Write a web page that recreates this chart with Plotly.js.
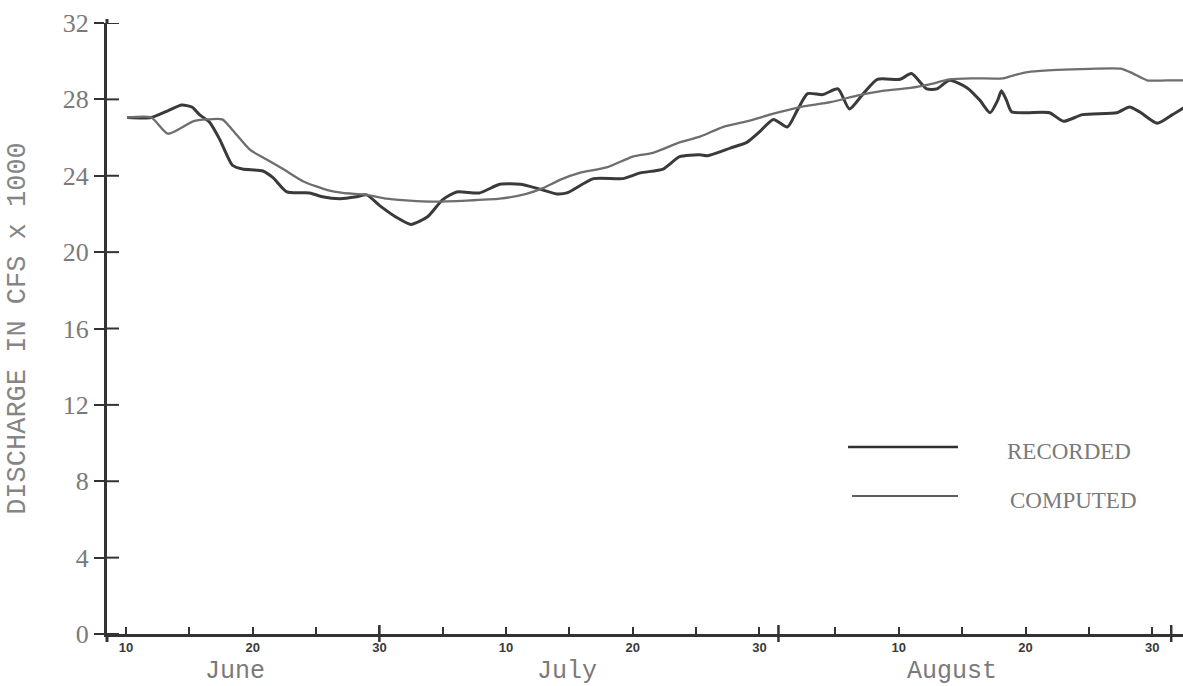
<!DOCTYPE html>
<html>
<head>
<meta charset="utf-8">
<script src="https://cdn.plot.ly/plotly-3.0.1.min.js"></script>
<style>
  html, body { margin: 0; padding: 0; background: #ffffff; }
  #chart { width: 1183px; height: 686px; }
</style>
</head>
<body>
<div id="chart"></div>
<script>
// Day numbers count from 1 June (1 July = 31, 1 August = 62).
const recordedDays = [10.1, 12.0, 13.3, 14.4, 15.2, 15.8, 16.6, 17.4, 18.4, 19.2, 20.8, 21.6, 22.7, 24.5, 25.5, 26.9, 28.2, 29.0, 30.0, 31.4, 32.5, 33.8, 35.0, 36.1, 37.9, 39.5, 41.1, 42.4, 44.0, 44.8, 46.9, 49.2, 50.6, 52.4, 53.7, 55.3, 55.9, 57.7, 59.0, 60.0, 61.1, 62.2, 63.0, 63.8, 65.0, 66.2, 67.1, 68.2, 69.3, 71.1, 72.0, 73.2, 74.0, 75.0, 76.4, 77.4, 78.2, 78.8, 79.1, 79.5, 79.9, 81.1, 82.9, 84.0, 85.5, 88.2, 89.2, 90.0, 91.4, 92.6, 93.7];
const recordedFlow = [27.05, 27.05, 27.4, 27.7, 27.6, 27.2, 26.8, 25.9, 24.55, 24.35, 24.25, 23.9, 23.15, 23.1, 22.9, 22.8, 22.9, 23.0, 22.45, 21.8, 21.45, 21.85, 22.75, 23.15, 23.1, 23.55, 23.55, 23.35, 23.05, 23.1, 23.85, 23.85, 24.15, 24.35, 25.0, 25.1, 25.05, 25.45, 25.75, 26.3, 26.95, 26.55, 27.45, 28.3, 28.25, 28.55, 27.5, 28.3, 29.05, 29.05, 29.35, 28.55, 28.55, 29.0, 28.6, 27.95, 27.3, 27.95, 28.45, 27.95, 27.35, 27.3, 27.3, 26.85, 27.2, 27.3, 27.6, 27.35, 26.75, 27.2, 27.65];

const computedDays = [10.1, 12.0, 13.3, 15.3, 16.4, 17.6, 18.4, 19.8, 21.1, 22.4, 24.0, 25.9, 27.1, 29.0, 30.6, 32.4, 34.2, 36.9, 39.5, 41.6, 42.9, 44.3, 45.8, 48.0, 50.0, 51.6, 53.7, 55.3, 57.1, 59.0, 61.1, 63.2, 65.6, 67.7, 69.7, 71.9, 73.5, 75.0, 76.9, 79.2, 80.0, 81.4, 83.5, 86.1, 88.6, 89.5, 90.6, 92.6, 93.7];
const computedFlow = [27.05, 27.05, 26.2, 26.85, 26.95, 26.95, 26.4, 25.35, 24.85, 24.35, 23.7, 23.25, 23.1, 23.0, 22.8, 22.7, 22.65, 22.7, 22.8, 23.05, 23.35, 23.8, 24.15, 24.45, 25.0, 25.2, 25.75, 26.05, 26.55, 26.85, 27.25, 27.6, 27.85, 28.2, 28.45, 28.6, 28.8, 29.05, 29.1, 29.1, 29.25, 29.45, 29.55, 29.6, 29.6, 29.35, 29.0, 29.0, 29.0];

const seriesNames = ['RECORDED', 'COMPUTED'];

const yTicks = [0, 4, 8, 12, 16, 20, 24, 28, 32];
const dayTicks = [10, 15, 20, 25, 30, 35, 40, 45, 50, 55, 60, 66, 71, 76, 81, 86, 91];
const dayTickText = ['10', '', '20', '', '30', '', '10', '', '20', '', '30', '', '10', '', '20', '', '30'];
const monthEnds = [30, 61.5, 92.5];
const monthNames = ['June', 'July', 'August'];
const monthMidDays = [18.6, 44.8, 75.2];

const axisColor = '#333333';
const textGray = '#7a7a7a';

const traces = [
  {
    x: recordedDays, y: recordedFlow, name: seriesNames[0],
    type: 'scatter', mode: 'lines',
    line: { color: '#3a3a3a', width: 3, shape: 'spline', smoothing: 0.6 }
  },
  {
    x: computedDays, y: computedFlow, name: seriesNames[1],
    type: 'scatter', mode: 'lines',
    line: { color: '#6e6e6e', width: 2.3, shape: 'spline', smoothing: 0.6 }
  }
];

const shapes = [];
// right-hand half of each y tick (the axis draws the outer half)
yTicks.forEach(v => shapes.push({
  type: 'line', xref: 'paper', xsizemode: 'pixel', xanchor: 0, x0: 0, x1: 12,
  yref: 'y', y0: v, y1: v, line: { color: axisColor, width: 2 }
}));
// long ticks closing each month
monthEnds.forEach(d => shapes.push({
  type: 'line', xref: 'x', x0: d, x1: d,
  yref: 'paper', ysizemode: 'pixel', yanchor: 0, y0: -8, y1: 9,
  line: { color: axisColor, width: 2.5 }
}));
// y axis continues a little past both ends
shapes.push({
  type: 'line', xref: 'paper', x0: 0, x1: 0,
  yref: 'paper', ysizemode: 'pixel', yanchor: 0, y0: -8, y1: 0,
  line: { color: axisColor, width: 3 }
});
shapes.push({
  type: 'line', xref: 'paper', x0: 0, x1: 0,
  yref: 'paper', ysizemode: 'pixel', yanchor: 1, y0: 0, y1: 4,
  line: { color: axisColor, width: 3 }
});
// legend sample lines
const legendRows = [
  { x0: 0.6887, x1: 0.7909, y: 0.306, ty: 0.298, tx: 0.8346, color: '#2f2f2f', width: 2.6 },
  { x0: 0.6924, x1: 0.7909, y: 0.226, ty: 0.219, tx: 0.8374, color: '#5e5e5e', width: 2 }
];
legendRows.forEach(r => shapes.push({
  type: 'line', xref: 'paper', yref: 'paper', x0: r.x0, x1: r.x1, y0: r.y, y1: r.y,
  line: { color: r.color, width: r.width }
}));

const annotations = [];
monthNames.forEach((m, i) => annotations.push({
  text: m, xref: 'x', x: monthMidDays[i], yref: 'paper', y: -0.061,
  xanchor: 'center', yanchor: 'middle', showarrow: false,
  font: { family: 'Liberation Mono, DejaVu Sans Mono, monospace', size: 25, color: textGray }
}));
seriesNames.forEach((n, i) => annotations.push({
  text: n, xref: 'paper', x: legendRows[i].tx, yref: 'paper', y: legendRows[i].ty,
  xanchor: 'left', yanchor: 'middle', showarrow: false,
  font: { family: 'Liberation Serif, DejaVu Serif, serif', size: 23, color: textGray }
}));

const layout = {
  width: 1183, height: 686,
  margin: { l: 107, r: 0, t: 23, b: 52 },
  paper_bgcolor: '#ffffff', plot_bgcolor: '#ffffff',
  showlegend: false,
  xaxis: {
    range: [8.5, 93.43], showgrid: false, zeroline: false,
    showline: true, linecolor: axisColor, linewidth: 2.5,
    tickmode: 'array', tickvals: dayTicks, ticktext: dayTickText,
    ticks: 'inside', ticklen: 7, tickwidth: 2, tickcolor: axisColor,
    ticklabelstandoff: 0,
    tickfont: { family: 'Liberation Sans, Arial, sans-serif', size: 13, weight: 'bold', color: '#3a3a3a' }
  },
  yaxis: {
    range: [0, 32], showgrid: false, zeroline: false,
    showline: true, linecolor: axisColor, linewidth: 3,
    tickmode: 'array', tickvals: yTicks,
    ticks: 'outside', ticklen: 10, tickwidth: 2, tickcolor: axisColor,
    ticklabelstandoff: 0,
    tickfont: { family: 'Liberation Serif, DejaVu Serif, serif', size: 26, color: textGray },
    title: {
      text: 'DISCHARGE IN CFS x 1000', standoff: 30,
      font: { family: 'Liberation Mono, DejaVu Sans Mono, monospace', size: 27, color: '#858585' }
    }
  },
  shapes: shapes,
  annotations: annotations
};

Plotly.newPlot('chart', traces, layout, { staticPlot: true, displayModeBar: false });
</script>
</body>
</html>
